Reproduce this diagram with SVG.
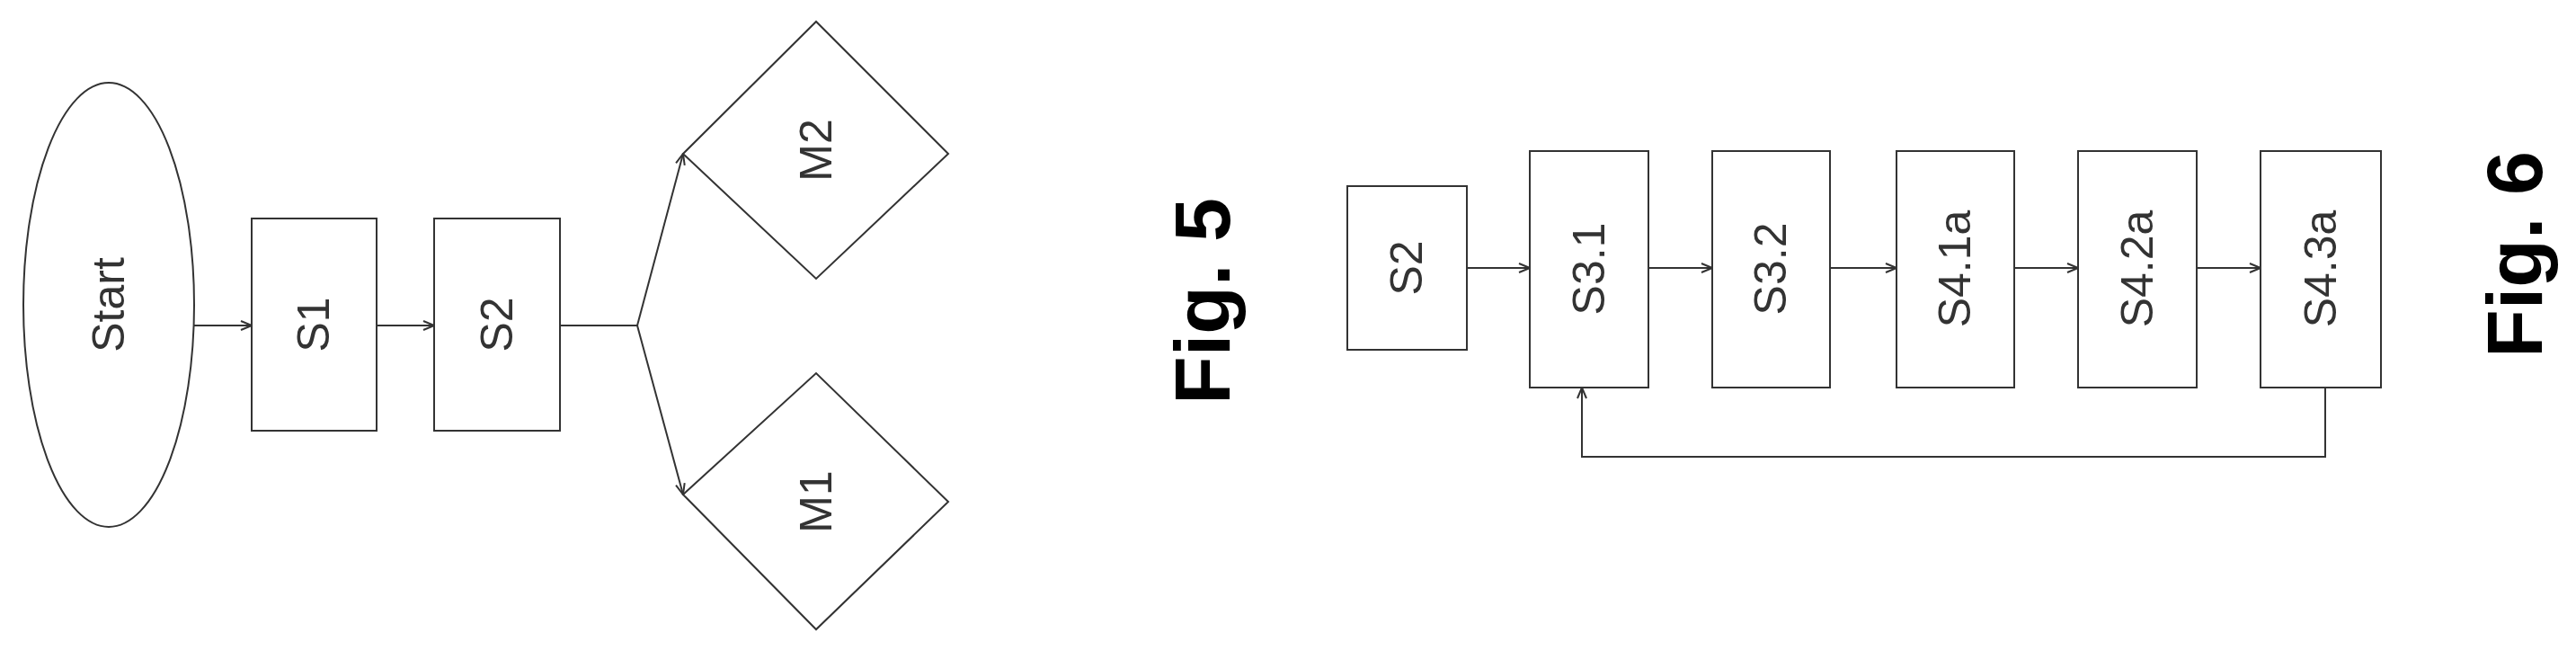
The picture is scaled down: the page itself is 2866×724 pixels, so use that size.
<svg xmlns="http://www.w3.org/2000/svg" width="2866" height="724" viewBox="0 0 2866 724">
<defs>
<marker id="ah" markerWidth="14" markerHeight="12" refX="13" refY="6" orient="auto" markerUnits="userSpaceOnUse">
<path d="M1,1 L13,6 L1,11" fill="none" stroke="#333" stroke-width="2"/>
</marker>
</defs>
<style>
.s{fill:#fff;stroke:#333;stroke-width:2}
.c{fill:none;stroke:#333;stroke-width:2}
.t{font-family:"Liberation Sans",Arial,sans-serif;font-size:50px;fill:#333;text-anchor:middle;dominant-baseline:central}
.f{font-family:"Liberation Sans",Arial,sans-serif;font-size:88px;font-weight:bold;fill:#000;text-anchor:middle;dominant-baseline:central}
</style>
<rect width="2866" height="724" fill="#fff"/>
<g id="connectors">
<line class="c" x1="216" y1="362" x2="280" y2="362" marker-end="url(#ah)"/>
<line class="c" x1="419" y1="362" x2="483" y2="362" marker-end="url(#ah)"/>
<polyline class="c" points="623,362 709,362"/>
<line class="c" x1="709" y1="362" x2="760" y2="171" marker-end="url(#ah)"/>
<line class="c" x1="709" y1="362" x2="760" y2="550" marker-end="url(#ah)"/>
<line class="c" x1="1632" y1="298" x2="1702" y2="298" marker-end="url(#ah)"/>
<line class="c" x1="1834" y1="298" x2="1905" y2="298" marker-end="url(#ah)"/>
<line class="c" x1="2036" y1="298" x2="2110" y2="298" marker-end="url(#ah)"/>
<line class="c" x1="2241" y1="298" x2="2312" y2="298" marker-end="url(#ah)"/>
<line class="c" x1="2444" y1="298" x2="2515" y2="298" marker-end="url(#ah)"/>
<polyline class="c" points="2587,431 2587,508 1760,508 1760,431" marker-end="url(#ah)"/>
</g>
<g id="start"><ellipse class="s" cx="121" cy="339" rx="95" ry="247"/><text class="t" transform="translate(121,339) rotate(-90)">Start</text></g>
<g id="s1"><rect class="s" x="280" y="243" width="139" height="236"/><text class="t" transform="translate(349,361) rotate(-90)">S1</text></g>
<g id="s2a"><rect class="s" x="483" y="243" width="140" height="236"/><text class="t" transform="translate(553,361) rotate(-90)">S2</text></g>
<g id="m2"><polygon class="s" points="760,171 908,24 1055,171 908,310"/><text class="t" transform="translate(908,167) rotate(-90)">M2</text></g>
<g id="m1"><polygon class="s" points="760,550 908,415 1055,558 908,700"/><text class="t" transform="translate(908,558) rotate(-90)">M1</text></g>
<g id="fig5"><text class="f" transform="translate(1337,335) rotate(-90)">Fig. 5</text></g>
<g id="s2b"><rect class="s" x="1499" y="207" width="133" height="182"/><text class="t" transform="translate(1565,298) rotate(-90)">S2</text></g>
<g id="s31"><rect class="s" x="1702" y="168" width="132" height="263"/><text class="t" transform="translate(1768,299) rotate(-90)">S3.1</text></g>
<g id="s32"><rect class="s" x="1905" y="168" width="131" height="263"/><text class="t" transform="translate(1970,299) rotate(-90)">S3.2</text></g>
<g id="s41a"><rect class="s" x="2110" y="168" width="131" height="263"/><text class="t" transform="translate(2175,299) rotate(-90)">S4.1a</text></g>
<g id="s42a"><rect class="s" x="2312" y="168" width="132" height="263"/><text class="t" transform="translate(2378,299) rotate(-90)">S4.2a</text></g>
<g id="s43a"><rect class="s" x="2515" y="168" width="134" height="263"/><text class="t" transform="translate(2582,299) rotate(-90)">S4.3a</text></g>
<g id="fig6"><text class="f" transform="translate(2797,283) rotate(-90)">Fig. 6</text></g>
</svg>
